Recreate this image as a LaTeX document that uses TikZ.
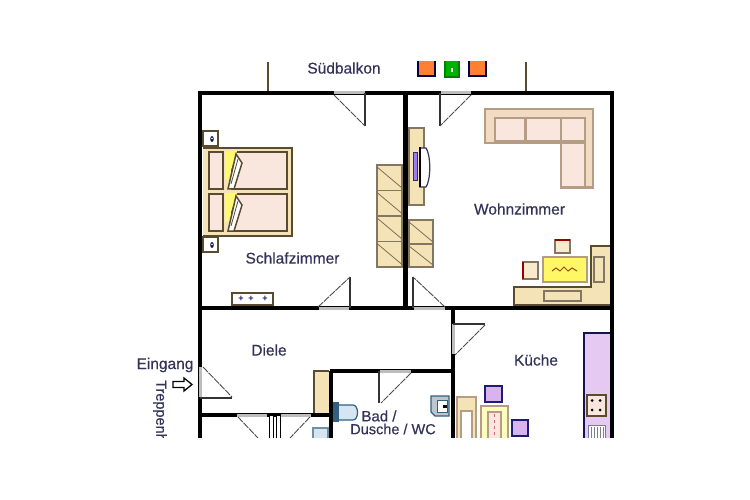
\documentclass[tikz,border=0pt]{standalone}
\usepackage{fontspec}
\setmainfont{Liberation Sans}
\newfontfamily\planfont[FakeBold=0.5]{Liberation Sans}
\definecolor{ink}{HTML}{33335A}
\definecolor{wood}{HTML}{F5E3B8}
\definecolor{brownline}{HTML}{5A4A30}
\definecolor{sofa}{HTML}{F3DAC2}
\definecolor{cushion}{HTML}{F9E6DC}
\definecolor{sofaline}{HTML}{B59C84}
\definecolor{lilac}{HTML}{E6C9F2}
\definecolor{chair}{HTML}{D9B3EE}
\definecolor{navy}{HTML}{1E1E70}
\definecolor{ablue}{HTML}{D5E6F2}
\definecolor{sblue}{HTML}{33607F}
\definecolor{slab}{HTML}{BDBDBD}
\tikzset{
 wall/.style={draw=black,line width=3.2pt},
 thickwall/.style={draw=black,line width=5pt},
 slabline/.style={draw=slab,line width=3pt},
 leaf/.style={draw=black!80,line width=1.3pt},
 swing/.style={draw=black!70,line width=0.9pt,dash pattern=on 7pt off 1pt},
 closet/.style={draw=brownline!75,fill=wood,line width=1.1pt},
 label/.style={text=ink,font=\planfont\fontsize{15.5}{17}\selectfont,inner sep=0pt},
 cush/.style={draw=sofaline,fill=cushion,line width=1.4pt},
 bedline/.style={draw=brownline,line width=1.5pt},
 chairbox/.style={draw=navy,fill=chair,line width=1.4pt},
}
\begin{document}
\begin{tikzpicture}[x=1pt,y=-1pt]
\useasboundingbox (0,0) rectangle (750,500);
\begin{scope}
\clip (125,62) rectangle (622,437);
% balcony
\draw[draw=brownline,line width=1.4pt] (268,62) -- (268,93) (526,62) -- (526,93);
\draw[draw=black!70!blue,fill=orange!75!red!80,line width=1.2pt] (418,60) rectangle (435,76);
\draw[draw=green!50!black,fill=green!70!black,line width=1.2pt] (445,60) rectangle (459,77);
\fill[white] (451,68) rectangle (453,72);
\draw[draw=black!70!blue,fill=orange!75!red!80,line width=1.2pt] (469,60) rectangle (486,76);
% bed
\fill[wood] (203,148) rectangle (292,236);
\draw[draw=brownline,line width=2pt] (203,148) -- (292,148) -- (292,236) -- (203,236);
\foreach \y in {152,194}{
 \draw[bedline,fill=cushion] (209,\y) rectangle (223,\y+37);
 \draw[bedline,fill=cushion] (232,\y) rectangle (287,\y+37);
 \fill[yellow!55] (225,\y-1) -- (237,\y-1) -- (228,\y+28) -- (225,\y+28) -- cycle;
 \draw[bedline,fill=white] (228,\y+37) -- (236,\y+2) -- (242,\y+11) -- (234,\y+37) -- cycle;
 \draw[draw=brownline,line width=0.8pt] (231,\y+32) -- (238,\y+7);
}
\foreach \y in {131,237}{
 \draw[draw=brownline,fill=white,line width=1.3pt] (203,\y) rectangle (218,\y+15);
 \fill[navy!70!black] (212,\y+8) ellipse (1.8pt and 3pt);
 \fill[white] (212,\y+7.5) circle (0.8pt);
}
% bedroom closet
\foreach \y in {165,190.5,216,241.5}{
 \draw[closet] (377,\y) rectangle (402,\y+25.5);
 \draw[draw=brownline!80,line width=0.8pt] (377,\y+2) -- (402,\y+23);
}
% heater
\draw[draw=brownline,fill=white,line width=1.4pt] (232,293) rectangle (273,308);
\fill[brownline] (232,304) rectangle (273,308);
\foreach \x in {241,251,265}{\node[text=navy,font=\bfseries\fontsize{9}{9}\selectfont,inner sep=0pt] at (\x,298.5) {+};}
% living room cabinet, TV
\draw[closet] (409,128) rectangle (424,205);
\draw[closet] (409,220) rectangle (433,244);
\draw[draw=brownline!80,line width=.8pt] (409,222) -- (433,242);
\draw[closet] (409,244) rectangle (433,267);
\draw[draw=brownline!80,line width=.8pt] (409,246) -- (433,265);
\draw[draw=ink,fill=white,line width=1.2pt] (420,148) -- (426,148) .. controls (431,155) and (431,180) .. (426,187) -- (420,187) -- cycle;
\draw[draw=black,fill=black,line width=1pt] (419,148) rectangle (420.5,187);
\draw[draw=ink,fill=chair!70!blue,line width=1pt] (413,153) rectangle (417,181);
% sofa
\draw[draw=sofaline,fill=sofa,line width=1.6pt] (485,109) -- (593,109) -- (593,188) -- (561,188) -- (561,143) -- (485,143) -- cycle;
\draw[cush] (495,118) rectangle (525,141);
\draw[cush] (526,118) rectangle (561,141);
\draw[cush] (561,118) rectangle (585,141);
\draw[cush] (561,143) rectangle (585,187);
\draw[draw=sofaline,line width=2pt] (485,143) -- (561,143) (561,187.5) -- (593,187.5);
% lounge
\fill[wood] (514,287) -- (591,287) -- (591,246) -- (610,246) -- (610,306) -- (514,306) -- cycle;
\draw[draw=brownline,line width=1.4pt] (514,306) -- (514,287) -- (591,287) -- (591,246) -- (610,246);
\fill[brownline] (514,304) rectangle (610,308);
\draw[closet,fill=wood] (594,257) rectangle (604,282);
\draw[closet,fill=wood] (544,291) rectangle (581,301);
\draw[draw=sofaline,fill=yellow!60,line width=1.6pt] (543,257) rectangle (587,282);
\draw[draw=orange!60!black,line width=1pt] (552,271) -- (556,268) -- (560,271) -- (564,267) -- (568,271) -- (572,268) -- (577,271);
\draw[closet,fill=wood!70] (555,240) rectangle (570,253);
\draw[draw=red!60!black,line width=1.6pt] (555,240) -- (570,240);
\draw[closet,fill=wood!70] (523,262) rectangle (538,279);
\draw[draw=red!60!black,line width=2pt] (523,262) -- (523,279);
% diele closet
\fill[wood] (314,371) rectangle (329,413);
\draw[draw=brownline,line width=1.2pt] (314,413) -- (314,371) -- (329,371);
% bath
\draw[draw=sblue,fill=ablue,line width=1.2pt] (338,405) -- (353,405) .. controls (359,405) and (359,420) .. (353,420) -- (338,420) -- cycle;
\fill[sblue] (332,402) rectangle (339,422);
\draw[draw=sblue!70,fill=ablue,line width=1.2pt] (313,428) rectangle (328,440);
\draw[draw=sblue,fill=ablue!70!gray,line width=1.4pt] (431,396) -- (449,396) -- (449,416) -- (435,416) -- (431,412) -- cycle;
\draw[draw=sblue,fill=white,line width=.8pt] (437,400) rectangle (447,412);
\fill[black] (443,405) rectangle (447,408);
% kitchen
\draw[draw=navy!70!black,fill=lilac,line width=1.8pt] (584,333) rectangle (611,440);
\draw[draw=brownline,fill=cushion,line width=1.2pt] (587,395) rectangle (606,416);
\fill[black] (592,400.5) circle (1.5pt) (592,410) circle (1.5pt) (600,400.5) circle (1.5pt) (600,410) circle (1.5pt);
\draw[draw=navy!60,fill=white,line width=1pt] (588,425) rectangle (605,440);
\foreach \x in {591,594,597,600,603}{\draw[draw=gray,line width=.8pt] (\x,427) -- (\x,440);}
\draw[closet,draw=sofaline] (457,397) rectangle (476,442);
\draw[draw=sofaline,fill=white,line width=1.4pt] (461,411) rectangle (472,442);
\draw[draw=sofaline,fill=yellow!25,line width=1.4pt] (481,406) rectangle (508,442);
\draw[draw=sofaline,fill=cushion,line width=1.2pt] (488,412) rectangle (501,442);
\draw[draw=purple!60,line width=1pt,dashed] (494.5,414) -- (494.5,437);
\draw[chairbox] (485,386) rectangle (502,402);
\draw[draw=navy,line width=2.6pt] (485,386) -- (502,386);
\draw[chairbox] (512,420) rectangle (528,436);
% walls
\draw[wall,line cap=rect] (200,440) -- (200,93) -- (612,93) -- (612,440);
\draw[wall] (200,308) -- (612,308);
\draw[thickwall] (405,93) -- (405,308);
\draw[wall] (453,308) -- (453,440);
\draw[wall] (330,371) -- (453,371);
\draw[wall] (331,371) -- (331,440);
\draw[wall] (200,415) -- (331,415);
\draw[draw=black,fill=white,line width=1pt] (269,415) rectangle (273,440);
\draw[draw=black,fill=white,line width=1pt] (276,415) rectangle (280,440);
% openings
\draw[slabline] (334,93) -- (365,93);
\draw[slabline] (441,93) -- (471,93);
\draw[slabline] (319,308) -- (349,308);
\draw[slabline] (414,308) -- (445,308);
\draw[slabline] (200,367) -- (200,397);
\draw[slabline] (237,415) -- (267,415);
\draw[slabline] (281,415) -- (311,415);
\draw[slabline] (380,371) -- (411,371);
\draw[slabline] (453,324) -- (453,354);
% door leaves
\draw[leaf] (365,93) -- (365,126);
\draw[swing] (334,95) -- (365,126);
\draw[leaf] (440,93) -- (440,126);
\draw[swing] (471,95) -- (440,126);
\draw[leaf] (350,277) -- (350,308);
\draw[swing] (318,307) -- (350,277);
\draw[leaf] (413,277) -- (413,308);
\draw[swing] (445,307) -- (413,277);
\draw[leaf] (200,398) -- (232,398);
\draw[swing] (203,367) -- (232,397);
\draw[swing] (238,417) -- (258,438);
\draw[swing] (310,417) -- (290,438);
\draw[leaf] (379,371) -- (379,403);
\draw[swing] (411,373) -- (381,403);
\draw[leaf] (453,324) -- (485,324);
\draw[swing] (485,325) -- (455,355);
% labels
\node[label] (suedbalkon) at (344,68) {Südbalkon};
\node[label] (schlaf) at (292.5,258) {Schlafzimmer};
\node[label] (wohn) at (519.5,209) {Wohnzimmer};
\node[label] (diele) at (269,350) {Diele};
\node[label] (kueche) at (536,360) {Küche};
\node[label,font=\planfont\fontsize{15}{17}\selectfont] (bad) at (379,416) {Bad /};
\node[label,font=\planfont\fontsize{14.5}{17}\selectfont] (dusche) at (393,429) {Dusche / WC};
\node[label] (eingang) at (165,365) {Eingang};
\node[label,rotate=-90,anchor=west,font=\planfont\fontsize{14.5}{17}\selectfont] (treppen) at (160,380) {Treppenhaus};
\draw[draw=black,fill=white,line width=1.3pt] (173,381.5) -- (184,381.5) -- (184,378) -- (192,384.5) -- (184,391) -- (184,387.5) -- (173,387.5) -- cycle;
\end{scope}
\end{tikzpicture}
\end{document}
